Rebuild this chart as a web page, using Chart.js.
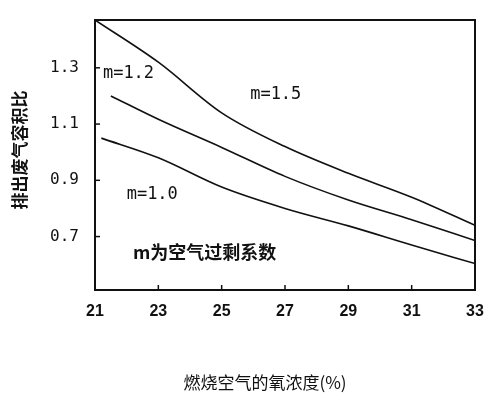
<!DOCTYPE html>
<html>
<head>
<meta charset="utf-8">
<script src="https://cdn.jsdelivr.net/npm/chart.js@4"></script>
<style>
  body { margin: 0; background: #fff; }
  #wrap { width: 500px; height: 403px; }
</style>
</head>
<body>
<div id="wrap"><canvas id="c"></canvas></div>
<script>
const xTicks = [21, 23, 25, 27, 29, 31, 33];
const yTicks = [0.7, 0.9, 1.1, 1.3];
const m15 = [[21, 1.47], [23, 1.32], [25, 1.14], [27, 1.02], [29, 0.925], [31, 0.84], [33, 0.74]];
const m12 = [[21.5, 1.2], [23, 1.117], [25, 1.017], [27, 0.914], [29, 0.83], [31, 0.76], [33, 0.686]];
const m10 = [[21.2, 1.05], [23, 0.98], [25, 0.876], [27, 0.80], [29, 0.738], [31, 0.67], [33, 0.604]];
const notes = [
  { text: 'm=1.2', x: 21.25, y: 1.28 },
  { text: 'm=1.5', x: 25.9, y: 1.205 },
  { text: 'm=1.0', x: 22.0, y: 0.85 },
  { text: 'm为空气过剩系数', x: 22.2, y: 0.645 }
];

const toPts = arr => arr.map(([x, y]) => ({ x, y }));
const line = (data) => ({
  data: toPts(data), borderColor: '#111', borderWidth: 1.6,
  pointRadius: 0, cubicInterpolationMode: 'monotone', fill: false
});

const decor = {
  id: 'decor',
  afterDraw(chart) {
    const { ctx, chartArea: a, scales: { x, y } } = chart;
    ctx.save();
    ctx.strokeStyle = '#111';
    ctx.lineWidth = 2;
    ctx.strokeRect(a.left, a.top, a.right - a.left, a.bottom - a.top);
    ctx.lineWidth = 1.5;
    xTicks.forEach(v => {
      const px = x.getPixelForValue(v);
      ctx.beginPath(); ctx.moveTo(px, a.bottom); ctx.lineTo(px, a.bottom - 5); ctx.stroke();
    });
    yTicks.forEach(v => {
      const py = y.getPixelForValue(v);
      ctx.beginPath(); ctx.moveTo(a.left, py); ctx.lineTo(a.left + 5, py); ctx.stroke();
    });
    ctx.fillStyle = '#111';
    ctx.textBaseline = 'middle';
    notes.forEach(n => {
      ctx.font = n.text.length > 6 ? 'bold 18px "Noto Sans CJK SC"' : '17px "DejaVu Sans Mono"';
      ctx.fillText(n.text, x.getPixelForValue(n.x), y.getPixelForValue(n.y));
    });
    ctx.textAlign = 'center';
    ctx.font = '17px "Noto Sans CJK SC"';
    ctx.fillText('燃烧空气的氧浓度(%)', 265, 383);
    ctx.translate(20, 150);
    ctx.rotate(-Math.PI / 2);
    ctx.font = 'bold 17px "Noto Sans CJK SC"';
    ctx.fillText('排出废气容积比', 0, 0);
    ctx.restore();
  }
};

new Chart(document.getElementById('c'), {
  type: 'line',
  data: { datasets: [line(m15), line(m12), line(m10)] },
  options: {
    responsive: true, maintainAspectRatio: false, animation: false,
    layout: { padding: { top: 20, right: 25 } },
    plugins: { legend: { display: false }, tooltip: { enabled: false } },
    scales: {
      x: {
        type: 'linear', min: 21, max: 33,
        afterFit: s => { s.height = 113; },
        afterBuildTicks: s => { s.ticks = xTicks.map(v => ({ value: v })); },
        grid: { display: false }, border: { display: false },
        ticks: { color: '#111', font: { size: 16, family: 'Liberation Sans', weight: 'bold' }, padding: 4 }
      },
      y: {
        min: 0.51, max: 1.47,
        afterFit: s => { s.width = 95; },
        afterBuildTicks: s => { s.ticks = yTicks.map(v => ({ value: v })); },
        grid: { display: false }, border: { display: false },
        ticks: { color: '#111', font: { size: 16, family: 'DejaVu Sans Mono' }, padding: 8,
                 callback: v => v.toFixed(1) }
      }
    }
  },
  plugins: [decor]
});
</script>
</body>
</html>
